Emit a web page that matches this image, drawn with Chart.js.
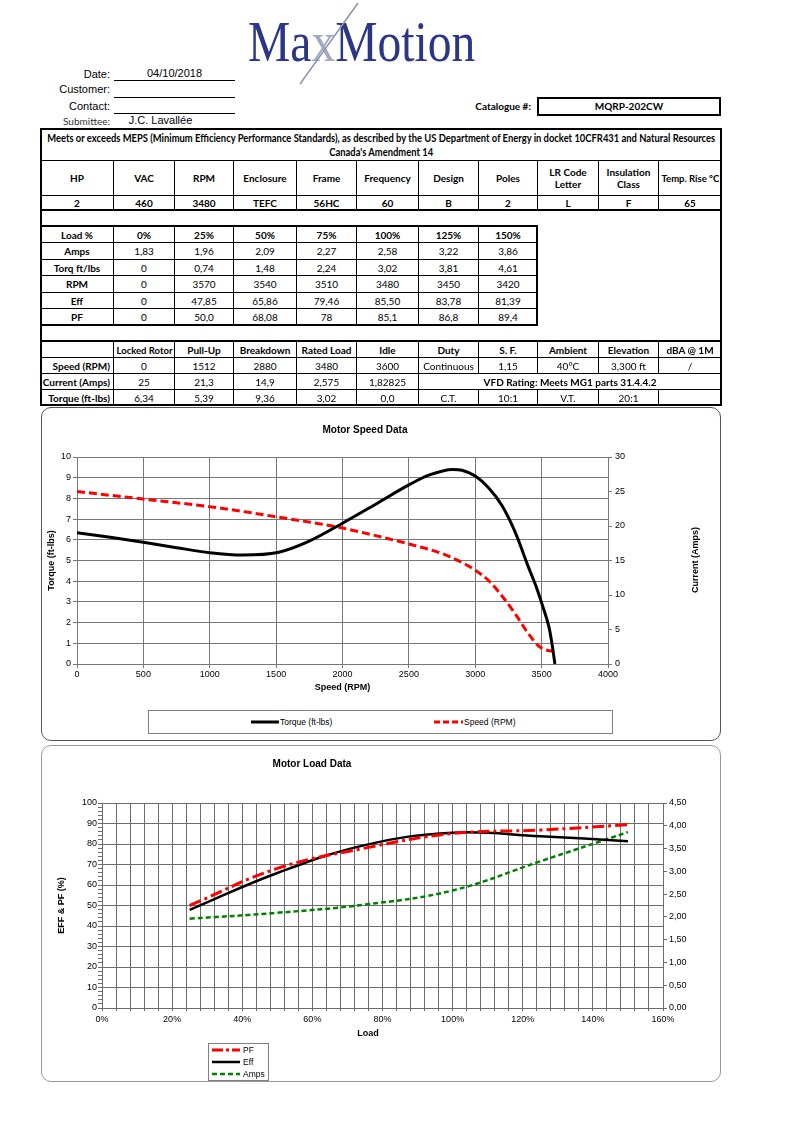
<!DOCTYPE html>
<html>
<head>
<meta charset="utf-8">
<title>MaxMotion MQRP-202CW</title>
<script src="https://cdn.jsdelivr.net/npm/chart.js@4.4.1/dist/chart.umd.min.js"></script>
<style>
html,body{margin:0;padding:0;background:#fff;}
body{position:relative;width:800px;height:1132px;overflow:hidden;font-family:Lato,"Liberation Sans",Arial,sans-serif;color:#000;}
.a{position:absolute;}
.cell{position:absolute;box-sizing:border-box;border:1px solid #000;display:flex;align-items:center;justify-content:center;text-align:center;font-size:10px;line-height:12px;white-space:nowrap;overflow:hidden;}
.cell > span{display:inline-block;transform-origin:50% 50%;}
.b{font-weight:bold;}
.r{justify-content:flex-end;padding-right:3px;}
.r > span{transform-origin:100% 50%;}
.thick{position:absolute;box-sizing:border-box;border:2px solid #000;}
.hl{position:absolute;height:0;border-top:2px solid #000;}
.lbl{position:absolute;left:0;width:110px;text-align:right;font:11px/13px "Liberation Sans",Arial,sans-serif;}
.ul{position:absolute;left:114px;width:121px;height:0;border-top:1.5px solid #000;}
.box{position:absolute;box-sizing:border-box;border-radius:10px;}
canvas{position:absolute;}
.ct{position:absolute;width:200px;text-align:center;font:bold 10px/12px "Liberation Sans",Arial,sans-serif;}
.legend{position:absolute;box-sizing:border-box;border:1px solid #808080;background:#fff;font-family:"Liberation Sans",Arial,sans-serif;font-size:8.5px;line-height:10px;}
.legend span{position:absolute;white-space:nowrap;}
</style>
</head>
<body>
<!-- logo -->
<div class="a" style="left:248px;top:13px;font-family:'Liberation Serif','DejaVu Serif',serif;font-size:58px;line-height:58px;color:#2b3686;transform:scaleX(0.82);transform-origin:0 0;white-space:nowrap;">Ma<span style="color:#a3a8c2">x</span>Motion</div>
<svg class="a" style="left:0;top:0" width="800" height="100"><line x1="358" y1="3" x2="300" y2="84" stroke="#8d93ad" stroke-width="1.5"/></svg>

<!-- header fields -->
<div class="lbl" style="top:68px">Date:</div>
<div class="a" style="left:114px;width:121px;top:67px;text-align:center;font:11px/13px 'Liberation Sans',Arial,sans-serif">04/10/2018</div>
<div class="ul" style="top:80px"></div>
<div class="lbl" style="top:83px">Customer:</div>
<div class="ul" style="top:97px"></div>
<div class="lbl" style="top:100px">Contact:</div>
<div class="ul" style="top:113px"></div>
<div class="lbl" style="top:115px;font:10px/12px Lato,sans-serif;color:#333">Submittee:</div>
<div class="a" style="left:100px;width:121px;top:114px;text-align:center;font:11px/13px 'Liberation Sans',Arial,sans-serif">J.C. Lavallée</div>
<div class="a b" style="left:420px;width:111px;top:100px;text-align:right;font-size:10px;line-height:12px">Catalogue #:</div>
<div class="a b" style="left:537px;top:97px;width:184px;height:19px;box-sizing:border-box;border:2px solid #000;font-size:10px;line-height:15px;text-align:center">MQRP-202CW</div>

<!-- chart boxes -->
<div class="box" style="left:41px;top:407px;width:680px;height:334px;border:1px solid #555"></div>
<div class="box" style="left:41px;top:745px;width:680px;height:337px;border:1px solid #999"></div>

<canvas id="c1" width="678" height="332" style="left:41px;top:407px"></canvas>
<canvas id="c2" width="678" height="334" style="left:41px;top:746px"></canvas>

<div class="ct" style="left:265px;top:424px">Motor Speed Data</div>
<div class="ct" style="left:212px;top:758px">Motor Load Data</div>
<div class="a" style="left:645px;top:554px;width:100px;text-align:center;font:bold 9px/12px 'Liberation Sans',Arial,sans-serif;transform:rotate(-90deg);">Current (Amps)</div>
<div class="a" style="left:318px;top:1027px;width:100px;text-align:center;font:bold 9px/12px 'Liberation Sans',Arial,sans-serif;">Load</div>

<div class="legend" style="left:148px;top:710px;width:465px;height:24px">
  <svg class="a" style="left:0;top:0" width="465" height="24">
    <line x1="102" y1="11" x2="130" y2="11" stroke="#000" stroke-width="3"/>
    <line x1="285" y1="11" x2="314" y2="11" stroke="#f00" stroke-width="3" stroke-dasharray="6,3"/>
  </svg>
  <span style="left:131px;top:6px">Torque (ft-lbs)</span>
  <span style="left:315px;top:6px">Speed (RPM)</span>
</div>
<div class="legend" style="left:208px;top:1043px;width:61px;height:38px">
  <svg class="a" style="left:0;top:0" width="61" height="38">
    <line x1="3" y1="6" x2="31" y2="6" stroke="#f00" stroke-width="3" stroke-dasharray="11,3,3,3"/>
    <line x1="3" y1="18" x2="31" y2="18" stroke="#000" stroke-width="2.5"/>
    <line x1="3" y1="30" x2="31" y2="30" stroke="#008000" stroke-width="2.5" stroke-dasharray="5,3"/>
  </svg>
  <span style="left:34px;top:1px">PF</span>
  <span style="left:34px;top:13px">Eff</span>
  <span style="left:34px;top:25px">Amps</span>
</div>

<script>
// ---------- chart data ----------
// Motor speed data: torque curve (left axis) vs speed
const torqueSpeedRpm = [0, 250, 500, 750, 1000, 1250, 1512, 1750, 2000, 2250, 2500, 2650, 2830, 2900, 3000, 3100, 3200, 3300, 3400, 3455, 3505, 3555, 3580, 3600];
const torqueFtLbs    = [6.34, 6.12, 5.88, 5.62, 5.38, 5.27, 5.39, 5.94, 6.80, 7.72, 8.65, 9.12, 9.40, 9.36, 9.08, 8.52, 7.67, 6.38, 4.69, 3.80, 2.85, 1.79, 0.90, 0];
// current curve (right axis) vs speed
const currentSpeedRpm = [0, 500, 1000, 1512, 2000, 2250, 2500, 2750, 2880, 3000, 3100, 3200, 3300, 3400, 3480, 3540, 3600];
const currentAmps     = [25, 23.9, 22.8, 21.3, 19.7, 18.6, 17.4, 16.0, 14.9, 13.6, 12.1, 9.9, 7.3, 4.4, 2.575, 2.0, 1.83];
// Motor load data
const loadFraction = [0.25, 0.50, 0.75, 1.00, 1.25, 1.50];
const pfPct        = [50.0, 68.08, 78, 85.1, 86.8, 89.4];
const effPct       = [47.85, 65.86, 79.46, 85.50, 83.78, 81.39];
const loadAmps     = [1.96, 2.09, 2.27, 2.58, 3.22, 3.86];
// axis ticks
const speedTicks   = {min: 0, max: 4000, step: 500};
const torqueTicks  = {min: 0, max: 10, step: 1};
const currentTicks = {min: 0, max: 30, step: 5};
const loadTicks    = {min: 0, max: 1.6, step: 0.04, labelEveryPct: 20};
const effTicks     = {min: 0, max: 100, step: 2, labelEvery: 10};
const ampTicks     = {min: 0, max: 4.5, step: 0.5};

// ---------- tables ----------
const colX = [40, 113, 174, 233, 296, 356, 418, 478, 537, 598, 658, 721];
const specHead = ['HP','VAC','RPM','Enclosure','Frame','Frequency','Design','Poles','LR Code<br>Letter','Insulation<br>Class','Temp. Rise °C'];
const specVal  = ['2','460','3480','TEFC','56HC','60','B','2','L','F','65'];
const loadRows = [
  ['Load %','0%','25%','50%','75%','100%','125%','150%'],
  ['Amps','1,83','1,96','2,09','2,27','2,58','3,22','3,86'],
  ['Torq ft/lbs','0','0,74','1,48','2,24','3,02','3,81','4,61'],
  ['RPM','0','3570','3540','3510','3480','3450','3420'],
  ['Eff','0','47,85','65,86','79,46','85,50','83,78','81,39'],
  ['PF','0','50,0','68,08','78','85,1','86,8','89,4']
];
const loadY = [226, 242, 259, 275, 292, 308, 325];
const perfRows = [
  ['','Locked Rotor','Pull-Up','Breakdown','Rated Load','Idle','Duty','S. F.','Ambient','Elevation','dBA @ 1M'],
  ['Speed (RPM)','0','1512','2880','3480','3600','Continuous','1,15','40°C','3,300 ft','/'],
  ['Current (Amps)','25','21,3','14,9','2,575','1,82825',['VFD Rating: Meets MG1 parts 31.4.4.2',5,'b']],
  ['Torque (ft-lbs)','6,34','5,39','9,36','3,02','0,0','C.T.','10:1','V.T.','20:1','']
];
const perfY = [341, 357, 373, 389, 405];

const cells = [];
function cell(c0, c1, y0, y1, html, cls) {
  const d = document.createElement('div');
  d.className = 'cell ' + (cls || '');
  d.style.left = colX[c0] + 'px';
  d.style.width = (colX[c1] - colX[c0] + 1) + 'px';
  d.style.top = y0 + 'px';
  d.style.height = (y1 - y0 + 1) + 'px';
  const s = document.createElement('span');
  s.innerHTML = html;
  d.appendChild(s);
  document.body.appendChild(d);
  cells.push(d);
  return d;
}
function row(cellsTxt, y0, y1, clsFn) {
  let c = 0;
  cellsTxt.forEach((t, i) => {
    let span = 1, txt = t, extra = '';
    if (Array.isArray(t)) { txt = t[0]; span = t[1]; extra = t[2] || ''; }
    cell(c, c + span, y0, y1, txt, clsFn(i) + ' ' + extra);
    c += span;
  });
}
function addDiv(cls, style) {
  const d = document.createElement('div');
  d.className = cls; d.setAttribute('style', style);
  document.body.appendChild(d);
}

const meps = cell(0, 11, 128, 160, 'Meets or exceeds MEPS (Minimum Efficiency Performance Standards), as described by the US Department of Energy in docket 10CFR431 and Natural Resources<br>Canada\'s Amendment 14', 'b');
meps.style.lineHeight = '14px';
meps.style.fontSize = '10.5px';
row(specHead, 160, 195, () => 'b');
row(specVal, 195, 210, () => 'b');
loadRows.forEach((r, k) => row(r, loadY[k], loadY[k + 1], i => (k === 0 || i === 0) ? 'b' : ''));
perfRows.forEach((r, k) => row(r, perfY[k], perfY[k + 1], i => (k === 0 || i === 0) ? 'b' + (k > 0 ? ' r' : '') : ''));

// squeeze text horizontally if it would overflow its cell (condensed look of the original)
cells.forEach(d => {
  const s = d.firstChild;
  const avail = d === meps ? 668 : d.clientWidth - 4;
  const w = s.offsetWidth;
  if (w > avail || d === meps) s.style.transform = 'scaleX(' + (avail / w).toFixed(3) + ')';
});

addDiv('thick', 'left:40px;top:128px;width:682px;height:278px;');
addDiv('hl', 'left:40px;top:209px;width:682px;');
addDiv('thick', 'left:40px;top:225px;width:498px;height:101px;');
addDiv('hl', 'left:40px;top:340px;width:682px;');

// ---------- charts ----------
Chart.defaults.font.family = '"Liberation Sans", Arial, sans-serif';
Chart.defaults.color = '#000';
const tickFont = {size: 9};
const axTitleFont = {size: 9, weight: 'bold'};
const gridCol = '#777777';
const gridCol2 = '#6c6c6c';

new Chart(document.getElementById('c1'), {
  type: 'line',
  data: {
    datasets: [
      {label: 'Torque (ft-lbs)', data: torqueSpeedRpm.map((x, i) => ({x: x, y: torqueFtLbs[i]})),
       borderColor: '#000', borderWidth: 3, pointRadius: 0, cubicInterpolationMode: 'monotone', yAxisID: 'y', fill: false},
      {label: 'Speed (RPM)', data: currentSpeedRpm.map((x, i) => ({x: x, y: currentAmps[i]})),
       borderColor: '#ff0000', borderWidth: 3, borderDash: [8, 4], pointRadius: 0, cubicInterpolationMode: 'monotone', yAxisID: 'y2', fill: false}
    ]
  },
  options: {
    responsive: false, animation: false, devicePixelRatio: 1,
    layout: {padding: {left: 4, top: 50, right: 0, bottom: 40}},
    plugins: {legend: {display: false}, tooltip: {enabled: false}, title: {display: false}},
    scales: {
      x: {type: 'linear', position: 'bottom', min: speedTicks.min, max: speedTicks.max,
          ticks: {stepSize: speedTicks.step, font: tickFont, color: '#000', padding: 1, maxRotation: 0, autoSkip: false,
                  callback: v => String(v)},
          grid: {color: gridCol, tickLength: 4, tickColor: gridCol},
          border: {color: gridCol},
          title: {display: true, text: 'Speed (RPM)', font: axTitleFont, color: '#000', padding: {top: 0, bottom: 5.6}},
          afterFit: s => { s.height = 35; }},
      y: {type: 'linear', position: 'left', min: torqueTicks.min, max: torqueTicks.max,
          ticks: {stepSize: torqueTicks.step, font: tickFont, color: '#000', padding: 2, callback: v => String(v)},
          grid: {color: gridCol, tickLength: 4, tickColor: gridCol},
          border: {color: gridCol},
          title: {display: true, text: 'Torque (ft-lbs)', font: axTitleFont, color: '#000', padding: {top: 1.6, bottom: 0}},
          afterFit: s => { s.width = 32; }},
      y2: {type: 'linear', position: 'right', min: currentTicks.min, max: currentTicks.max,
          ticks: {stepSize: currentTicks.step, font: tickFont, color: '#000', padding: 3, callback: v => String(v)},
          grid: {drawOnChartArea: false, tickLength: 4, tickColor: gridCol},
          border: {color: gridCol},
          afterFit: s => { s.width = 111; }}
    }
  }
});

new Chart(document.getElementById('c2'), {
  type: 'line',
  data: {
    datasets: [
      {label: 'PF', data: loadFraction.map((x, i) => ({x: x, y: pfPct[i]})),
       borderColor: '#ff0000', borderWidth: 3, borderDash: [12, 4, 3, 4], pointRadius: 0, tension: 0.4, yAxisID: 'y', fill: false},
      {label: 'Eff', data: loadFraction.map((x, i) => ({x: x, y: effPct[i]})),
       borderColor: '#000', borderWidth: 2.5, pointRadius: 0, tension: 0.4, yAxisID: 'y', fill: false},
      {label: 'Amps', data: loadFraction.map((x, i) => ({x: x, y: loadAmps[i]})),
       borderColor: '#008000', borderWidth: 2.5, borderDash: [5, 3], pointRadius: 0, tension: 0.4, yAxisID: 'y2', fill: false}
    ]
  },
  options: {
    responsive: false, animation: false, devicePixelRatio: 1,
    layout: {padding: {left: 4, top: 57, right: 11, bottom: 32}},
    plugins: {legend: {display: false}, tooltip: {enabled: false}, title: {display: false}},
    scales: {
      x: {type: 'linear', position: 'bottom', min: loadTicks.min, max: loadTicks.max,
          ticks: {stepSize: loadTicks.step, font: tickFont, color: '#000', padding: 3, maxRotation: 0, autoSkip: false,
                  callback: v => { const p = Math.round(v * 100); return p % loadTicks.labelEveryPct === 0 ? p + '%' : ''; }},
          grid: {color: gridCol2, tickLength: 3, tickColor: gridCol2},
          border: {color: gridCol2},
          title: {display: false},
          afterFit: s => { s.height = 40; }},
      y: {type: 'linear', position: 'left', min: effTicks.min, max: effTicks.max,
          ticks: {stepSize: effTicks.step, font: tickFont, color: '#000', padding: 1, autoSkip: false,
                  callback: v => (Math.round(v) % effTicks.labelEvery === 0 ? String(Math.round(v)) : '')},
          grid: {color: c => (c.tick && Math.round(c.tick.value) % effTicks.labelEvery === 0) ? gridCol2 : 'rgba(0,0,0,0)',
                 tickLength: 4, tickColor: gridCol2},
          border: {color: gridCol2},
          title: {display: true, text: 'EFF & PF (%)', font: axTitleFont, color: '#000', padding: {top: 11.6, bottom: 0}},
          afterFit: s => { s.width = 57; }},
      y2: {type: 'linear', position: 'right', min: ampTicks.min, max: ampTicks.max,
          ticks: {stepSize: ampTicks.step, font: tickFont, color: '#000', padding: 2,
                  callback: v => Number(v).toFixed(2).replace('.', ',')},
          grid: {drawOnChartArea: false, tickLength: 4, tickColor: gridCol2},
          border: {color: gridCol2},
          afterFit: s => { s.width = 45; }}
    }
  }
});
</script>
</body>
</html>
